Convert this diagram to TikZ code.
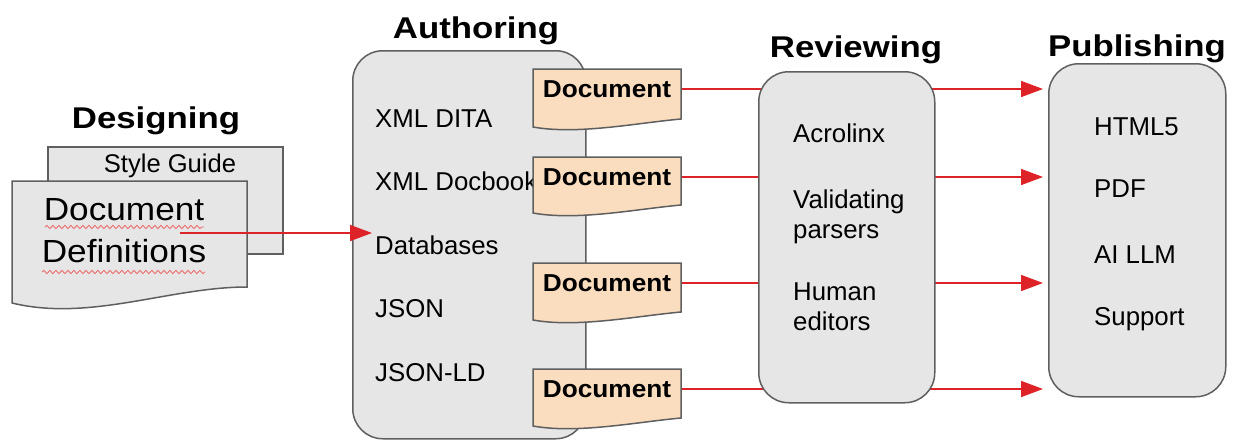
\documentclass[tikz,border=0pt]{standalone}
\usepackage{fontspec}
\setmainfont{Liberation Sans}
\usetikzlibrary{arrows.meta,decorations.pathmorphing,backgrounds}
\definecolor{boxgray}{RGB}{230,230,230}
\definecolor{edgegray}{RGB}{95,95,95}
\definecolor{doctan}{RGB}{250,221,190}
\definecolor{flowred}{RGB}{222,35,40}
\definecolor{squigred}{RGB}{235,110,110}
\newcommand\tandoc[5]{%
  \path[docshape] (#2,#3) -- (#4,#3) -- (#4,#5-8)
    .. controls ({#4-0.3*(#4-#2)},#5-4) and ({#2+0.3*(#4-#2)},#5+8) .. (#2,#5) -- cycle;
  \node[doctext] (#1) at ({(#2+#4)/2},#3+28) {\scalebox{1.07}[1]{Document}};
  \coordinate (#1out) at (#4,#3+20);
}
\begin{document}
\begin{tikzpicture}[x=1pt,y=-1pt,
  title/.style={font=\fontsize{30}{36}\selectfont\bfseries, inner sep=0pt, anchor=base},
  item/.style={font=\fontsize{25.8}{30}\selectfont, inner sep=0pt, anchor=base west, align=left},
  stage/.style={draw=edgegray, line width=1.5pt, fill=boxgray, rounded corners=30pt, inner sep=0pt, anchor=north west},
  page/.style={draw=edgegray, line width=1.5pt, fill=boxgray},
  docshape/.style={draw=edgegray, line width=1.5pt, fill=doctan},
  doctext/.style={font=\fontsize{24.5}{30}\selectfont\bfseries, inner sep=0pt, anchor=base},
  flow/.style={draw=flowred, line width=1.6pt},
  flowarrow/.style={flow, -{Triangle[length=22pt,width=16pt]}},
  squiggle/.style={draw=squigred, line width=0.9pt, decorate, decoration={snake, amplitude=1.6pt, segment length=6pt}}
]
\useasboundingbox (0,0) rectangle (1245,440);

% ---------- Designing ----------
\node[title] (tdes) at (156,128) {\scalebox{1.16}[1]{Designing}};
\node[page, anchor=north west, minimum width=235pt, minimum height=107pt, inner sep=0pt] (sg) at (47,146) {};
\node[font=\fontsize{25.6}{30}\selectfont, anchor=base, inner sep=0pt] (sgt) at (170,172) {Style Guide};
\path[page] (12,181) -- (247,181) -- (247,287) .. controls (170,287) and (90,322) .. (12,303) -- cycle;
\node[font=\fontsize{32}{42}\selectfont, align=center, anchor=base, inner sep=0pt] (dd) at (124,262)
  {\scalebox{1.1}[1]{Document}\\\scalebox{1.1}[1]{Definitions}};
\draw[squiggle] (45,227) -- (204,227);
\draw[squiggle] (42,272) -- (205,272);
\coordinate (ddout) at (180,233);

% ---------- Authoring ----------
\node[title] (tauth) at (476,38) {\scalebox{1.16}[1]{Authoring}};
\node[stage, minimum width=233pt, minimum height=388pt] (auth) at (352,50) {};
\node[item] (a1) at (375,127) {XML DITA};
\node[item] (a2) at (375,190.5) {XML Docbook};
\node[item] (a3) at (375,254.5) {Databases};
\node[item] (a4) at (375,317.5) {JSON};
\node[item] (a5) at (375,381) {JSON-LD};
\tandoc{doc1}{533}{69}{681}{127}
\tandoc{doc2}{533}{157}{681}{213}
\tandoc{doc3}{533}{263}{681}{320}
\tandoc{doc4}{533}{369}{681}{426}
\draw[flowarrow] (ddout) -- ([xshift=20pt]auth.west |- ddout);

% ---------- Reviewing ----------
\node[title] (trev) at (856,57) {\scalebox{1.16}[1]{Reviewing}};
\node[stage, minimum width=176pt, minimum height=331pt] (rev) at (758,71) {};
\node[item] (r1) at (793,142) {Acrolinx};
\node[item] (r2) at (793,238) {Validating\\parsers};
\node[item] (r3) at (793,330) {Human\\editors};

% ---------- Publishing ----------
\node[title] (tpub) at (1137,56) {\scalebox{1.16}[1]{Publishing}};
\node[stage, minimum width=177pt, minimum height=333pt] (pub) at (1048,63) {};
\node[item] (p1) at (1094,135) {HTML5};
\node[item] (p2) at (1094,197) {PDF};
\node[item] (p3) at (1094,263) {AI LLM};
\node[item] (p4) at (1094,325) {Support};

% ---------- connectors ----------
\begin{scope}[on background layer]
\foreach \dn in {doc1,doc2,doc3,doc4}{
  \draw[flow] (\dn out) -- (rev.center |- \dn out);
  \draw[flowarrow, shorten >=5pt] (rev.center |- \dn out) -- (pub.west |- \dn out);
}
\end{scope}
\end{tikzpicture}
\end{document}
